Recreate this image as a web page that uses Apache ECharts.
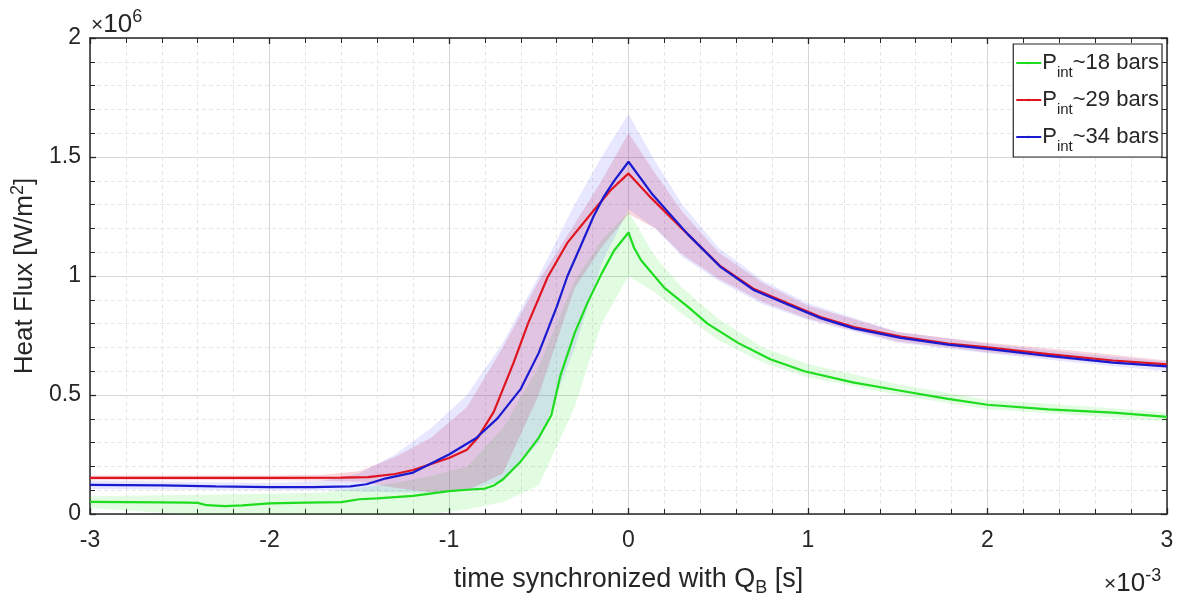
<!DOCTYPE html>
<html>
<head>
<meta charset="utf-8">
<script src="https://cdn.jsdelivr.net/npm/echarts@6/dist/echarts.min.js"></script>
<style>html,body{margin:0;padding:0;background:#fff;width:1177px;height:602px;overflow:hidden}#c{width:1177px;height:602px;overflow:hidden}</style>
</head>
<body>
<div id="c"></div>
<script>
// ---- data (time in ms, heat flux in MW/m^2) ----
const seriesNames = ['P_int~18 bars', 'P_int~29 bars', 'P_int~34 bars'];
const xTickLabels = ['-3', '-2', '-1', '0', '1', '2', '3'];
const yTickLabels = ['0', '0.5', '1', '1.5', '2'];

const greenX = [-3.0,-2.8,-2.6,-2.45,-2.4,-2.35,-2.25,-2.15,-2.0,-1.8,-1.6,-1.5,-1.4,-1.2,-1.0,-0.9,-0.8,-0.75,-0.7,-0.6,-0.5,-0.43,-0.38,-0.3,-0.23,-0.15,-0.08,0.0,0.03,0.07,0.2,0.33,0.44,0.61,0.79,0.98,1.25,1.5,1.78,2.0,2.34,2.7,3.0];
const greenY = [0.051,0.050,0.049,0.048,0.047,0.037,0.033,0.036,0.045,0.048,0.050,0.062,0.066,0.076,0.096,0.102,0.107,0.120,0.145,0.221,0.320,0.415,0.580,0.760,0.885,1.010,1.107,1.183,1.120,1.066,0.950,0.871,0.800,0.719,0.650,0.600,0.553,0.520,0.484,0.459,0.440,0.426,0.408];

const redX = [-3.0,-2.0,-1.6,-1.45,-1.3,-1.2,-1.1,-1.0,-0.9,-0.84,-0.75,-0.64,-0.56,-0.45,-0.34,-0.2,-0.1,0.0,0.13,0.33,0.514,0.70,0.887,1.07,1.255,1.517,1.78,2.0,2.34,2.7,3.0];
const redY = [0.152,0.152,0.153,0.155,0.168,0.185,0.210,0.235,0.270,0.320,0.430,0.636,0.800,0.996,1.140,1.270,1.360,1.431,1.325,1.176,1.040,0.945,0.885,0.828,0.785,0.745,0.716,0.700,0.672,0.645,0.629];

const blueX = [-3.0,-2.6,-2.3,-2.0,-1.76,-1.55,-1.46,-1.35,-1.2,-1.0,-0.85,-0.73,-0.6,-0.5,-0.4,-0.34,-0.27,-0.195,-0.14,-0.08,0.0,0.134,0.33,0.514,0.70,0.887,1.07,1.255,1.517,1.78,2.0,2.34,2.7,3.0];
const blueY = [0.122,0.120,0.116,0.113,0.113,0.116,0.125,0.150,0.174,0.250,0.318,0.402,0.526,0.677,0.870,1.000,1.120,1.250,1.330,1.400,1.480,1.342,1.176,1.037,0.940,0.880,0.823,0.780,0.740,0.712,0.694,0.664,0.636,0.620];

// shaded spread bands
const bandX   = [-3,-2.5,-2,-1.7,-1.5,-1.3,-1.1,-0.9,-0.7,-0.5,-0.3,-0.15,0,0.15,0.3,0.5,0.75,1.0,1.5,2.0,2.5,3.0];
const greenLo = [0.025,0.0,0.0,0.0,0.0,0.0,0.0,0.02,0.05,0.12,0.45,0.80,1.00,0.93,0.84,0.73,0.635,0.575,0.50,0.44,0.416,0.39];
const greenHi = [0.075,0.08,0.085,0.09,0.11,0.13,0.16,0.20,0.36,0.62,0.98,1.15,1.27,1.08,0.95,0.82,0.70,0.63,0.545,0.48,0.455,0.428];
const redLo   = [0.142,0.142,0.142,0.14,0.135,0.11,0.09,0.10,0.17,0.50,0.95,1.12,1.26,1.20,1.09,0.99,0.89,0.82,0.725,0.68,0.645,0.615];
const redHi   = [0.162,0.162,0.162,0.165,0.18,0.24,0.32,0.45,0.70,0.98,1.22,1.40,1.60,1.43,1.27,1.10,0.97,0.875,0.765,0.72,0.685,0.645];
const blueLo  = [0.105,0.102,0.10,0.10,0.095,0.09,0.09,0.10,0.14,0.30,0.70,1.05,1.28,1.20,1.08,0.98,0.88,0.815,0.72,0.675,0.635,0.60];
const blueHi  = [0.14,0.135,0.13,0.14,0.17,0.25,0.36,0.50,0.72,1.00,1.30,1.50,1.68,1.48,1.30,1.12,0.98,0.885,0.765,0.715,0.675,0.64];

// ---- chart ----
const FONT = '"Liberation Sans", Arial, Helvetica, sans-serif';
const INK = '#262626';
const lineColors = ['#1edc1e', '#e01420', '#1a1ad0'];
const bandColors = ['rgba(40,235,40,0.14)', 'rgba(215,20,60,0.17)', 'rgba(70,70,255,0.13)'];

function zip(xs, ys) { return xs.map((x, i) => [x, ys[i]]); }
function band(lo, hi, color, z) {
  return {
    type: 'custom', coordinateSystem: 'cartesian2d', xAxisIndex: 0, yAxisIndex: 0,
    data: [[0, 0]], silent: true, z: z,
    renderItem: function (params, api) {
      const pts = [];
      for (let i = 0; i < bandX.length; i++) pts.push(api.coord([bandX[i], hi[i]]));
      for (let i = bandX.length - 1; i >= 0; i--) pts.push(api.coord([bandX[i], lo[i]]));
      return { type: 'polygon', shape: { points: pts }, style: { fill: color, stroke: null } };
    }
  };
}
function lineSeries(idx, xs, ys) {
  return {
    name: seriesNames[idx], type: 'line', data: zip(xs, ys), symbol: 'none', showSymbol: false,
    xAxisIndex: 0, yAxisIndex: 0, z: 5,
    lineStyle: { color: lineColors[idx], width: 2.2 }, itemStyle: { color: lineColors[idx] }
  };
}

const tickCommon = {
  axisTick: { show: true, inside: true, length: 6, lineStyle: { color: INK, width: 1.3 } },
  minorTick: { show: true, splitNumber: 5, length: 5, lineStyle: { color: INK, width: 1 } }
};
const expRich = {
  x: { fontSize: 21, fontFamily: FONT, fill: INK, color: INK },
  a: { fontSize: 26, fontFamily: FONT, fill: INK, color: INK },
  p: { fontSize: 18, fontFamily: FONT, fill: INK, color: INK, padding: [0, 0, 16, 0] }
};

const chart = echarts.init(document.getElementById('c'), null, { renderer: 'canvas', width: 1177, height: 602 });
chart.setOption({
  animation: false,
  backgroundColor: '#ffffff',
  grid: { left: 90, right: 10, top: 38, bottom: 82, containLabel: false },
  xAxis: [
    Object.assign({
      type: 'value', min: -3, max: 3, interval: 1, position: 'bottom',
      axisLine: { show: true, onZero: false, lineStyle: { color: INK, width: 1.5 } },
      axisLabel: { fontSize: 23, color: INK, fontFamily: FONT, margin: 15,
        formatter: v => xTickLabels[Math.round(v) + 3] },
      splitLine: { show: true, lineStyle: { color: '#d6d6d6', width: 1 } },
      minorSplitLine: { show: true, lineStyle: { color: '#e6e6e6', width: 1, type: [4, 3] } },
      name: '{a|time synchronized with Q}{s|B}{a| [s]}', nameLocation: 'middle', nameGap: 48,
      nameTextStyle: { fontFamily: FONT, color: INK, rich: {
        a: { fontSize: 27, fontFamily: FONT, color: INK },
        s: { fontSize: 18, fontFamily: FONT, color: INK, padding: [17, 0, 0, 0] } } }
    }, tickCommon),
    Object.assign({
      type: 'value', min: -3, max: 3, interval: 1, position: 'top',
      axisLine: { show: true, onZero: false, lineStyle: { color: INK, width: 1.5 } },
      axisLabel: { show: false }, splitLine: { show: false }
    }, tickCommon)
  ],
  yAxis: [
    Object.assign({
      type: 'value', min: 0, max: 2, interval: 0.5, position: 'left',
      axisLine: { show: true, onZero: false, lineStyle: { color: INK, width: 1.5 } },
      axisLabel: { fontSize: 23, color: INK, fontFamily: FONT, margin: 9,
        formatter: v => yTickLabels[Math.round(v * 2)] },
      splitLine: { show: true, lineStyle: { color: '#d6d6d6', width: 1 } },
      minorSplitLine: { show: true, lineStyle: { color: '#e6e6e6', width: 1, type: [4, 3] } },
      name: '{a|Heat Flux [W/m}{p|2}{a|]}', nameLocation: 'middle', nameGap: 46, nameRotate: 90,
      nameTextStyle: { fontFamily: FONT, color: INK, rich: {
        a: { fontSize: 26, fontFamily: FONT, color: INK },
        p: { fontSize: 18, fontFamily: FONT, color: INK, padding: [0, 0, 14, 0] } } }
    }, tickCommon),
    Object.assign({
      type: 'value', min: 0, max: 2, interval: 0.5, position: 'right',
      axisLine: { show: true, onZero: false, lineStyle: { color: INK, width: 1.5 } },
      axisLabel: { show: false }, splitLine: { show: false }
    }, tickCommon)
  ],
  legend: {
    data: seriesNames, orient: 'vertical', right: 15, top: 44,
    backgroundColor: '#ffffff', borderColor: INK, borderWidth: 1.2,
    padding: [8, 3, 3, 2], itemGap: 9, itemWidth: 25, itemHeight: 3,
    formatter: function (name) {
      const parts = name.split('_int');
      return '{a|' + parts[0] + '}{s|int}{a|' + parts[1] + '}';
    },
    textStyle: { fontFamily: FONT, color: INK, padding: [0, 0, 0, -4], rich: {
      a: { fontSize: 22, fontFamily: FONT, color: INK },
      s: { fontSize: 15, fontFamily: FONT, color: INK, padding: [19, 0, 0, 0] } } }
  },
  graphic: [
    { type: 'text', left: 91, top: 8, silent: true,
      style: { text: '{x|×}{a|10}{p|6}', rich: expRich } },
    { type: 'text', left: 1104, top: 567, silent: true,
      style: { text: '{x|×}{a|10}{p|-3}', rich: expRich } }
  ],
  series: [
    band(greenLo, greenHi, bandColors[0], 1),
    band(redLo, redHi, bandColors[1], 2),
    band(blueLo, blueHi, bandColors[2], 3),
    lineSeries(0, greenX, greenY),
    lineSeries(1, redX, redY),
    lineSeries(2, blueX, blueY)
  ]
});
</script>
</body>
</html>
